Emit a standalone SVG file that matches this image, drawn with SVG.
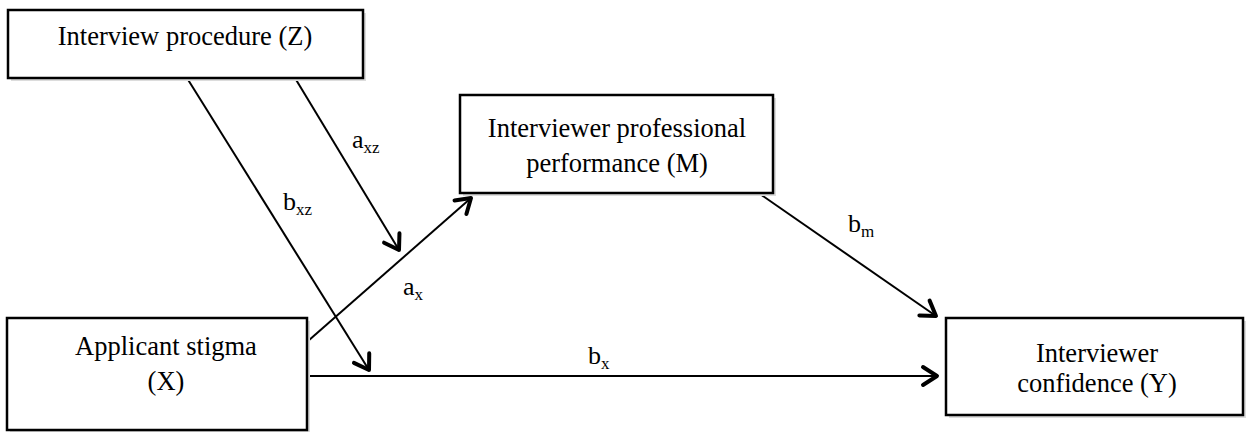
<svg xmlns="http://www.w3.org/2000/svg" width="1250" height="432" viewBox="0 0 1250 432">
<style>
.box{fill:#fff;stroke:#000;stroke-width:2.5}
.shadow{fill:#dcdcdc}
.t{font-family:"Liberation Serif","Times New Roman",serif;font-size:26.5px;fill:#000;text-anchor:middle}
.lbl{font-family:"Liberation Serif","Times New Roman",serif;font-size:26px;fill:#000}
.sub{font-size:17px}
.edge{stroke:#000;stroke-width:2;fill:none;marker-end:url(#arr)}
</style>
<defs>
<marker id="arr" markerUnits="userSpaceOnUse" viewBox="-20 -15 24 30" refX="0" refY="0" markerWidth="24" markerHeight="30" orient="auto">
<path d="M -14 -9 L 0 0 L -14 9" fill="none" stroke="#000" stroke-width="4" stroke-linecap="round" stroke-linejoin="round"/>
</marker>
</defs>
<g id="connectors">
<line class="edge" x1="187" y1="78" x2="369" y2="370"/>
<line class="edge" x1="295" y1="78" x2="399" y2="250"/>
<line class="edge" x1="308" y1="341" x2="471" y2="198"/>
<line class="edge" x1="308" y1="376" x2="937" y2="376"/>
<line class="edge" x1="760" y1="194" x2="936" y2="316"/>
<text class="lbl" x="352" y="148">a<tspan class="sub" dy="5">xz</tspan></text>
<text class="lbl" x="283" y="210">b<tspan class="sub" dy="5">xz</tspan></text>
<text class="lbl" x="403" y="295">a<tspan class="sub" dy="5">x</tspan></text>
<text class="lbl" x="848" y="232">b<tspan class="sub" dy="5">m</tspan></text>
<text class="lbl" x="588" y="364">b<tspan class="sub" dy="5">x</tspan></text>
</g>
<g id="node-z">
<rect class="shadow" x="11" y="13" width="355" height="68"/>
<rect class="box" x="8" y="10" width="355" height="68"/>
<text class="t" x="185" y="45">Interview procedure (Z)</text>
</g>
<g id="node-m">
<rect class="shadow" x="463" y="98" width="313" height="98"/>
<rect class="box" x="460" y="95" width="313" height="98"/>
<text class="t" x="617" y="137">Interviewer professional</text>
<text class="t" x="617" y="172">performance (M)</text>
</g>
<g id="node-x">
<rect class="shadow" x="10" y="321" width="300" height="112"/>
<rect class="box" x="7" y="318" width="300" height="112"/>
<text class="t" x="166" y="355">Applicant stigma</text>
<text class="t" x="166" y="390">(X)</text>
</g>
<g id="node-y">
<rect class="shadow" x="949" y="321" width="297" height="97"/>
<rect class="box" x="946" y="318" width="297" height="97"/>
<text class="t" x="1097" y="362">Interviewer</text>
<text class="t" x="1097" y="392">confidence (Y)</text>
</g>
</svg>
